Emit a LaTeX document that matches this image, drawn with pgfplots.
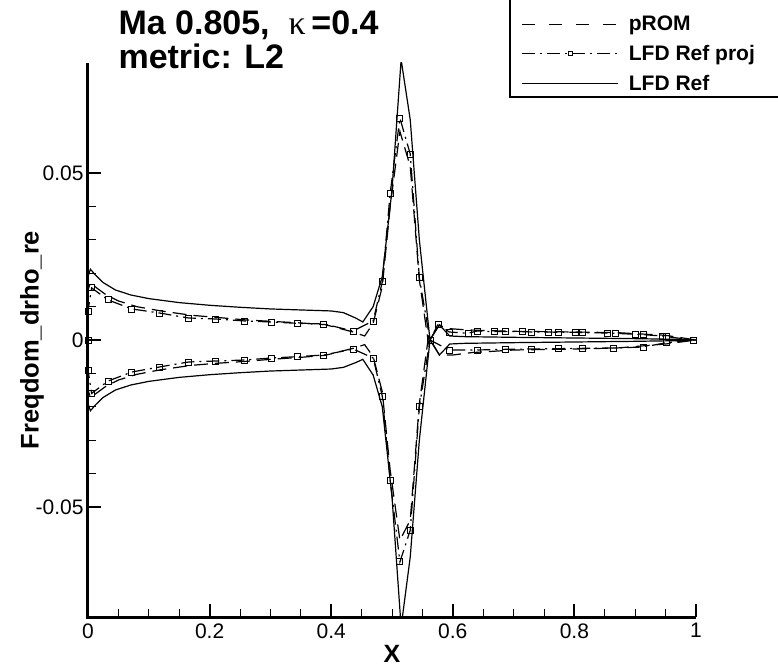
\documentclass[border=0pt]{standalone}
\usepackage{fontspec}
\setmainfont{Liberation Sans}
\newfontfamily\seriffont{Liberation Serif}
\usepackage{pgfplots}
\pgfplotsset{compat=1.18}
\pgfplotsset{
  proj legend/.style={legend image code/.code={\draw[mark repeat=2, mark phase=2, ##1, mark size=2pt] plot coordinates {(0pt,0pt) (48pt,0pt) (96pt,0pt)};}},
  prom legend/.style={legend image code/.code={\draw[##1, dash pattern=on 13pt off 14pt] (0pt,0pt) -- (96pt,0pt);}},
}

\begin{document}
\begin{tikzpicture}[x=1pt,y=1pt]
\useasboundingbox (-88,-49) rectangle (690,617);
\begin{axis}[
  at={(0,0)}, anchor=south west,
  width=608pt, height=554pt, scale only axis,
  xmin=0, xmax=1, ymin=-0.083, ymax=0.083,
  clip mode=individual,
  axis line style={draw=none},
  tick pos=left,
  scaled y ticks=false, scaled x ticks=false,
  xtick={0,0.2,0.4,0.6,0.8,1}, xticklabels={0,0.2,0.4,0.6,0.8,1},
  ytick={-0.05,0,0.05}, yticklabels={-0.05,0,0.05},
  minor x tick num=3, minor y tick num=4,
  tick align=inside,
  major tick length=13pt, minor tick length=8pt,
  tick style={black},
  every major tick/.append style={line width=2pt},
  every minor tick/.append style={line width=1pt},
  tick label style={font=\fontsize{21}{21}\selectfont},
  xticklabel style={yshift=-3pt},
  yticklabel style={xshift=-1pt},
  xlabel={X}, ylabel={Freqdom\_drho\_re},
  xlabel style={font=\fontsize{25}{25}\selectfont\bfseries, inner sep=0pt, at={(axis description cs:0.5,-0.066)}, anchor=center},
  ylabel style={font=\fontsize{25.5}{25.5}\selectfont\bfseries, at={(axis description cs:-0.092,0.5)}, anchor=center},
  legend style={at={(axis description cs:0.713,1.0884)}, anchor=north west, draw=none, fill=none,
     font=\fontsize{21}{21}\selectfont\bfseries, row sep=9pt, inner sep=0pt,
     /tikz/every odd column/.append style={column sep=8pt}},
  legend cell align=left,
  legend image code/.code={\draw[#1] (0pt,0pt) -- (96pt,0pt);},
  every axis plot/.append style={line width=1.2pt, black},
]
% ---------- pROM (dashed)
\addplot[dash pattern=on 14pt off 7pt, prom legend] coordinates {
(0.0,0.0) (0.0,0.0150) (0.004,0.0172) (0.015,0.0155) (0.03,0.0135) (0.05,0.0117)
(0.08,0.0100) (0.12,0.0087) (0.17,0.0074) (0.21,0.0068) (0.26,0.0060) (0.3,0.0056)
(0.35,0.0051) (0.39,0.0046) (0.436,0.0024) (0.455,0.0012) (0.469,0.0050) (0.484,0.0160)
(0.497,0.0400) (0.513,0.0625) (0.530,0.0520) (0.545,0.0180) (0.560,-0.0010) (0.575,0.0045)
(0.594,0.0034) (0.625,0.0030) (0.7,0.0026) (0.8,0.0024) (0.87,0.0022) (0.95,0.0014) (1.0,0.0)};
\addlegendentry{pROM}
\addplot[dash pattern=on 14pt off 7pt, forget plot] coordinates {
(0.0,0.0) (0.0,-0.0150) (0.004,-0.0172) (0.015,-0.0158) (0.03,-0.0138) (0.05,-0.0120)
(0.08,-0.0103) (0.12,-0.0089) (0.17,-0.0076) (0.21,-0.0070) (0.26,-0.0064) (0.3,-0.0058)
(0.35,-0.0052) (0.39,-0.0046) (0.436,-0.0025) (0.455,-0.0014) (0.469,-0.0050) (0.484,-0.0155)
(0.497,-0.0390) (0.513,-0.0600) (0.530,-0.0540) (0.545,-0.0190) (0.560,0.0010) (0.578,-0.0045)
(0.6,-0.0045) (0.63,-0.0038) (0.7,-0.0030) (0.8,-0.0027) (0.87,-0.0024) (0.95,-0.0012) (1.0,0.0)};
% ---------- LFD Ref proj (dash-dot with squares)
\addplot[dash pattern=on 13pt off 5pt on 2pt off 5pt, mark=square, mark size=3pt,
  mark options={solid, line width=0.9pt}, proj legend]
coordinates {
(0.0,0.0) (0.0,0.0087) (0.006,0.0156) (0.033,0.0120) (0.072,0.0093) (0.117,0.0081)
(0.165,0.0066) (0.209,0.0063) (0.258,0.0057) (0.301,0.0054) (0.344,0.0050) (0.388,0.0048)
(0.436,0.0027) (0.469,0.0057) (0.484,0.0174) (0.497,0.0440) (0.513,0.0665) (0.530,0.0557)
(0.545,0.0186) (0.5625,0.0000) (0.577,0.0048) (0.594,0.0024) (0.625,0.0020) (0.640,0.0027)
(0.669,0.0025) (0.686,0.0025) (0.715,0.0025) (0.730,0.0024) (0.758,0.0024) (0.773,0.0023)
(0.801,0.0023) (0.814,0.0022) (0.854,0.0021) (0.867,0.0020) (0.901,0.0017) (0.913,0.0016)
(0.944,0.0012) (0.952,0.0010) (0.995,0.0000)};
\addlegendentry{LFD Ref proj}
\addplot[dash pattern=on 13pt off 5pt on 2pt off 5pt, mark=square, mark size=3pt,
  mark options={solid, line width=0.9pt}, forget plot]
coordinates {
(0.0,0.0) (0.0,-0.0090) (0.006,-0.0160) (0.033,-0.0123) (0.072,-0.0096) (0.117,-0.0081)
(0.165,-0.0066) (0.209,-0.0063) (0.258,-0.0060) (0.301,-0.0054) (0.344,-0.0050) (0.388,-0.0045)
(0.436,-0.0027) (0.469,-0.0054) (0.484,-0.0168) (0.497,-0.0420) (0.513,-0.0665) (0.530,-0.0570)
(0.545,-0.0200) (0.5625,0.0000) (0.594,-0.0030) (0.640,-0.0030) (0.686,-0.0028) (0.730,-0.0027)
(0.773,-0.0026) (0.814,-0.0025) (0.865,-0.0024) (0.913,-0.0021) (0.952,-0.0008) (0.995,0.0000)};
% ---------- LFD Ref (solid)
\addplot[solid] coordinates {
(0.0,0.0) (0.0,0.0190) (0.004,0.0212) (0.012,0.0195) (0.025,0.0172) (0.045,0.0150)
(0.07,0.0135) (0.1,0.0124) (0.15,0.0112) (0.2,0.0104) (0.25,0.0098) (0.3,0.0093)
(0.35,0.0090) (0.4,0.0087) (0.42,0.0082) (0.44,0.0066) (0.452,0.0054) (0.469,0.0100)
(0.484,0.0190) (0.500,0.0450) (0.515,0.0840) (0.530,0.0660) (0.545,0.0300) (0.5625,0.0000)
(0.578,-0.0045) (0.595,-0.0012) (0.62,-0.0010) (0.7,-0.0008) (0.8,-0.0006) (0.9,-0.0004)
(0.97,-0.0002) (1.0,0.0)};
\addlegendentry{LFD Ref}
\addplot[solid, forget plot] coordinates {
(0.0,0.0) (0.0,-0.0190) (0.004,-0.0212) (0.012,-0.0195) (0.025,-0.0172) (0.045,-0.0150)
(0.07,-0.0135) (0.1,-0.0124) (0.15,-0.0112) (0.2,-0.0104) (0.25,-0.0098) (0.3,-0.0093)
(0.35,-0.0090) (0.4,-0.0087) (0.42,-0.0082) (0.44,-0.0068) (0.452,-0.0058) (0.469,-0.0105)
(0.484,-0.0200) (0.500,-0.0470) (0.515,-0.0860) (0.530,-0.0650) (0.545,-0.0300) (0.5625,0.0000)
(0.578,0.0045) (0.595,0.0012) (0.62,0.0010) (0.7,0.0008) (0.8,0.0006) (0.9,0.0004)
(0.97,0.0002) (1.0,0.0)};
\draw[line width=3pt] (rel axis cs:0,1) -- (rel axis cs:0,0) -- (rel axis cs:1,0);
\draw[line width=1.2pt] (axis description cs:0.694,1.2) -- (axis description cs:0.694,0.9386) -- (axis description cs:1.2,0.9386);
\end{axis}
\node[anchor=base west, font=\fontsize{34}{34}\selectfont\bfseries] at (27,582) {Ma 0.805,\ \ {\seriffont\mdseries κ}\,=0.4};
\node[anchor=base west, font=\fontsize{34}{34}\selectfont\bfseries] at (27,548) {metric: L2};
\end{tikzpicture}
\end{document}
